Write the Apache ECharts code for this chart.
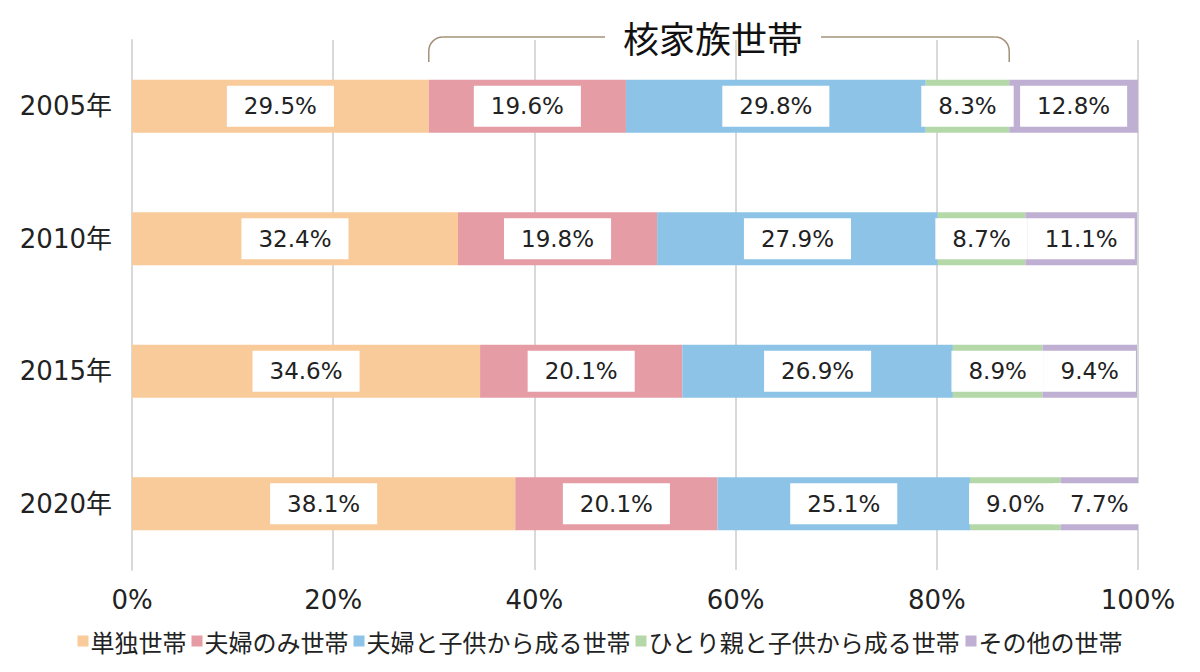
<!DOCTYPE html>
<html>
<head>
<meta charset="utf-8">
<script src="https://cdn.jsdelivr.net/npm/echarts@6/dist/echarts.min.js"></script>
<style>
  html, body { margin: 0; padding: 0; background: #fff; }
  #chart { width: 1200px; height: 672px; }
</style>
</head>
<body>
<div id="chart"></div>
<script>
var years = ['2005年', '2010年', '2015年', '2020年'];
var seriesNames = ['単独世帯', '夫婦のみ世帯', '夫婦と子供から成る世帯', 'ひとり親と子供から成る世帯', 'その他の世帯'];
var single = [29.5, 32.4, 34.6, 38.1];
var coupleOnly = [19.6, 19.8, 20.1, 20.1];
var coupleKids = [29.8, 27.9, 26.9, 25.1];
var singleParent = [8.3, 8.7, 8.9, 9.0];
var others = [12.8, 11.1, 9.4, 7.7];
var xTicks = [0, 20, 40, 60, 80, 100];
var braceLabel = '核家族世帯';

var colors = ['#FACB9A', '#E59CA4', '#8DC3E6', '#B5D8A8', '#BFAFD3'];
var font = '"DejaVu Sans", "Noto Sans CJK JP", sans-serif';
var cjk = '"Noto Sans CJK JP", sans-serif';
var values = [single, coupleOnly, coupleKids, singleParent, others];

var chart = echarts.init(document.getElementById('chart'), null, { renderer: 'svg' });

var series = seriesNames.map(function(name, i) {
  return {
    name: name,
    type: 'bar',
    stack: 'total',
    barWidth: '40%',
    data: values[i],
    itemStyle: { color: colors[i] },
    label: {
      show: true,
      position: 'inside',
      color: '#222',
      fontFamily: font,
      fontSize: 23,
      lineHeight: 24,
      backgroundColor: '#fff',
      padding: [9, 17, 8, 17],
      formatter: function(p) { return p.value.toFixed(1) + '%'; }
    }
  };
});

chart.setOption({
  animation: false,
  textStyle: { fontFamily: font },
  grid: { left: 132, right: 62, top: 40, bottom: 102 },
  xAxis: {
    type: 'value',
    min: xTicks[0],
    max: xTicks[xTicks.length - 1],
    interval: xTicks[1] - xTicks[0],
    axisLine: { show: false },
    axisTick: { show: false },
    axisLabel: { color: '#222', fontSize: 26, margin: 17, fontFamily: font, formatter: '{value}%' },
    splitLine: { lineStyle: { color: '#d9d9d9', width: 2 } }
  },
  yAxis: {
    type: 'category',
    data: years,
    inverse: true,
    axisLine: { show: true, lineStyle: { color: '#d9d9d9', width: 2 } },
    axisTick: { show: false },
    axisLabel: { color: '#222', fontSize: 26, margin: 20, fontFamily: font }
  },
  legend: {
    bottom: 14,
    left: 'center',
    itemWidth: 11,
    itemHeight: 11,
    itemGap: 5,
    icon: 'rect',
    textStyle: { color: '#222', fontSize: 24, fontFamily: cjk, padding: [0, 0, 0, -3] },
    data: seriesNames
  },
  series: series
});

// 核家族 brace over the 2005 bar: from end of 単独 to end of ひとり親
function drawBrace() {
  var start = single[0];
  var end = single[0] + coupleOnly[0] + coupleKids[0] + singleParent[0];
  var x0 = chart.convertToPixel({ xAxisIndex: 0 }, start);
  var x1 = chart.convertToPixel({ xAxisIndex: 0 }, end);
  var yTop = 37, yBot = 62, r = 14;
  var mid = (x0 + x1) / 2 - 6;
  var gap = 108;
  var braceStyle = { stroke: '#A39279', lineWidth: 1.5, fill: null };
  chart.setOption({
    graphic: [
      { type: 'line', shape: { x1: x0, y1: yBot, x2: x0, y2: yTop + r }, style: braceStyle, silent: true },
      { type: 'arc', shape: { cx: x0 + r, cy: yTop + r, r: r, startAngle: Math.PI, endAngle: Math.PI * 1.5 }, style: braceStyle, silent: true },
      { type: 'line', shape: { x1: x0 + r, y1: yTop, x2: mid - gap, y2: yTop }, style: braceStyle, silent: true },
      { type: 'line', shape: { x1: mid + gap, y1: yTop, x2: x1 - r, y2: yTop }, style: braceStyle, silent: true },
      { type: 'arc', shape: { cx: x1 - r, cy: yTop + r, r: r, startAngle: -Math.PI / 2, endAngle: 0 }, style: braceStyle, silent: true },
      { type: 'line', shape: { x1: x1, y1: yTop + r, x2: x1, y2: yBot }, style: braceStyle, silent: true },
      {
        type: 'text',
        x: mid,
        y: yTop,
        silent: true,
        style: {
          text: braceLabel,
          fill: '#111',
          font: '36px ' + cjk,
          textAlign: 'center',
          textVerticalAlign: 'middle'
        }
      }
    ]
  });
}
drawBrace();
window.addEventListener('resize', function() { chart.resize(); drawBrace(); });
</script>
</body>
</html>
